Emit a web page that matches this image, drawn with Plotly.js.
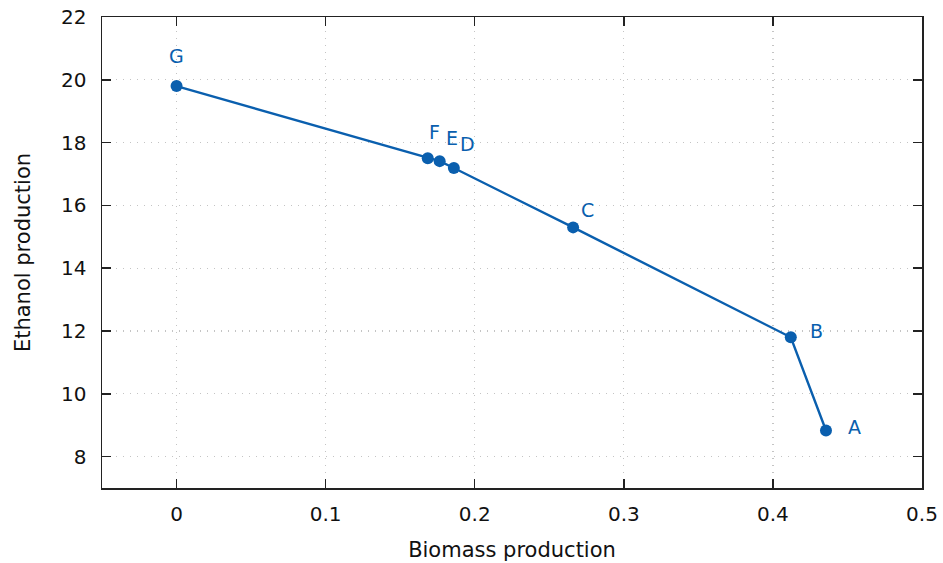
<!DOCTYPE html>
<html><head><meta charset="utf-8">
<script src="https://cdn.plot.ly/plotly-3.0.1.min.js"></script>
<style>html,body{margin:0;padding:0;background:#fff}#chart{width:943px;height:563px}</style>
</head><body><div id="chart"></div>
<script>
const labels = ['G','F','E','D','C','B','A'];
const biomass = [0, 0.1685, 0.1765, 0.186, 0.266, 0.412, 0.4356];
const ethanol = [19.8, 17.5, 17.41, 17.19, 15.3, 11.8, 8.83];
const labelDx = [0, 7, 12, 14, 14, 26, 29];
const labelDy = [30, 26, 23, 24, 17, 6, 4];
const color = '#0a5fae';
const font = 'DejaVu Sans, sans-serif';

const annotations = labels.map((t,i)=>({
  x: biomass[i], y: ethanol[i], text: t, showarrow:false,
  xshift: labelDx[i], yshift: labelDy[i],
  font:{family:font,size:19,color:color}
}));

const trace = {
  x: biomass, y: ethanol, mode:'lines+markers', type:'scatter',
  line:{color:color,width:2.4}, marker:{color:color,size:12}, cliponaxis:false
};
const axisCommon = {
  showline:true, mirror:'ticks', linecolor:'#222', linewidth:1.5,
  ticks:'inside', ticklen:9, tickcolor:'#222', tickwidth:1.5,
  showgrid:true, gridcolor:'#c4c4c4', griddash:'1px,6px', gridwidth:1.2,
  zeroline:false, tickfont:{family:font,size:20,color:'#111'}
};
const layout = {
  width:943, height:563, margin:{l:102,r:21,t:17,b:75},
  paper_bgcolor:'#fff', plot_bgcolor:'#fff', showlegend:false,
  xaxis: Object.assign({}, axisCommon, {range:[-0.05,0.5], tickvals:[0,0.1,0.2,0.3,0.4,0.5], ticktext:['0','0.1','0.2','0.3','0.4','0.5'],
    ticklabelstandoff:7,
    title:{text:'Biomass production', font:{family:font,size:21,color:'#111'}, standoff:18}}),
  yaxis: Object.assign({}, axisCommon, {range:[7,22], tickvals:[8,10,12,14,16,18,20,22],
    ticklabelstandoff:10,
    title:{text:'Ethanol production', font:{family:font,size:21,color:'#111'}, standoff:24}}),
  annotations: annotations
};
Plotly.newPlot('chart',[trace],layout,{displayModeBar:false,staticPlot:true});
</script></body></html>
